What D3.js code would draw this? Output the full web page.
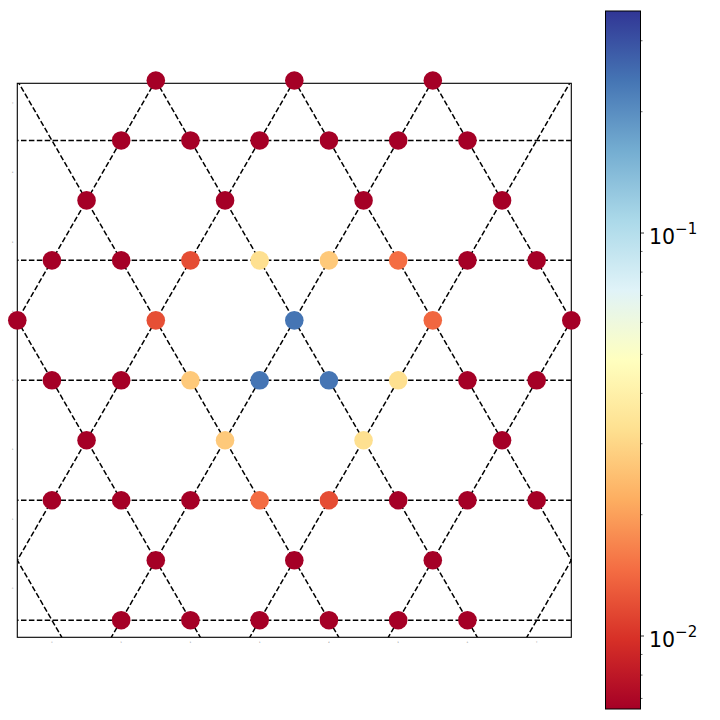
<!DOCTYPE html>
<html>
<head>
<meta charset="utf-8">
<script src="https://cdn.jsdelivr.net/npm/d3@7"></script>
<style>
  html, body { margin: 0; padding: 0; background: #fff; }
  svg { display: block; font-family: "DejaVu Sans", sans-serif; }
</style>
</head>
<body>
<svg id="chart" width="720" height="720"></svg>
<script>
// ---------------- data ----------------
const pointX = [
  1.5, 3.5, 5.5,
  1, 2, 3, 4, 5, 6,
  0.5, 2.5, 4.5, 6.5,
  0, 1, 2, 3, 4, 5, 6, 7,
  -0.5, 1.5, 3.5, 5.5, 7.5,
  0, 1, 2, 3, 4, 5, 6, 7,
  0.5, 2.5, 4.5, 6.5,
  0, 1, 2, 3, 4, 5, 6, 7,
  1.5, 3.5, 5.5,
  1, 2, 3, 4, 5, 6
];
const pointY = [
  7.330, 7.330, 7.330,
  6.464, 6.464, 6.464, 6.464, 6.464, 6.464,
  5.598, 5.598, 5.598, 5.598,
  4.732, 4.732, 4.732, 4.732, 4.732, 4.732, 4.732, 4.732,
  3.866, 3.866, 3.866, 3.866, 3.866,
  3.000, 3.000, 3.000, 3.000, 3.000, 3.000, 3.000, 3.000,
  2.134, 2.134, 2.134, 2.134,
  1.268, 1.268, 1.268, 1.268, 1.268, 1.268, 1.268, 1.268,
  0.402, 0.402, 0.402,
  -0.464, -0.464, -0.464, -0.464, -0.464, -0.464
];
const pointValue = [
  0.0066, 0.0066, 0.0066,
  0.0066, 0.0066, 0.0066, 0.0066, 0.0066, 0.0066,
  0.0066, 0.0066, 0.0066, 0.0066,
  0.0066, 0.0066, 0.0119, 0.0325, 0.027, 0.0146, 0.0066, 0.0066,
  0.0066, 0.0120, 0.239, 0.0141, 0.0066,
  0.0066, 0.0066, 0.027, 0.239, 0.239, 0.0325, 0.0066, 0.0066,
  0.0066, 0.027, 0.0325, 0.0066,
  0.0066, 0.0066, 0.0066, 0.0145, 0.0119, 0.0066, 0.0066, 0.0066,
  0.0066, 0.0066, 0.0066,
  0.0066, 0.0066, 0.0066, 0.0066, 0.0066, 0.0066
];
// lattice guide lines
const horizontalLineY = [6.464, 4.732, 3.000, 1.268, -0.464];
const risingLineX0 = [-1, 1, 3, 5, 7, 9];    // 60° lines, x where they cross y = 3
const fallingLineX0 = [-2, 0, 2, 4, 6, 8];   // 120° lines, x where they cross y = 3
const lineRefY = 3;
// axes
const xDomain = [-0.5, 7.5];
const yDomain = [-0.711, 7.289];
const xTicks = [0, 1, 2, 3, 4, 5, 6, 7];
const yTicks = [0, 1, 2, 3, 4, 5, 6, 7];
// colour bar
const colorMin = 0.00659, colorMax = 0.3556;
const cbMajorTicks = [0.01, 0.1];
const cbMinorTicks = [0.007, 0.008, 0.009, 0.02, 0.03, 0.04, 0.05, 0.06, 0.07, 0.08, 0.09, 0.2, 0.3];
const rdylbu = ["#a50026","#d73027","#f46d43","#fdae61","#fee090","#ffffbf",
                "#e0f3f8","#abd9e9","#74add1","#4575b4","#313695"];

// ---------------- layout ----------------
const svg = d3.select("#chart");
const plot = { left: 17.3, top: 83.3, width: 554, height: 554 };
const cb = { left: 605.5, top: 11, width: 35, height: 698 };

const x = d3.scaleLinear().domain(xDomain).range([plot.left, plot.left + plot.width]);
const y = d3.scaleLinear().domain(yDomain).range([plot.top + plot.height, plot.top]);

const norm = d3.scaleLog().domain([colorMin, colorMax]).range([0, 1]).clamp(true);
const cmap = d3.scaleLinear()
  .domain(d3.range(rdylbu.length).map(i => i / (rdylbu.length - 1)))
  .range(rdylbu).interpolate(d3.interpolateRgb);
const color = v => cmap(norm(v));

const defs = svg.append("defs");
defs.append("clipPath").attr("id", "plotclip")
  .append("rect").attr("x", plot.left).attr("y", plot.top)
  .attr("width", plot.width).attr("height", plot.height);

// ---------------- guide lines ----------------
const lineG = svg.append("g").attr("clip-path", "url(#plotclip)")
  .attr("fill", "none").attr("stroke", "#000")
  .attr("stroke-width", 1.5).attr("stroke-dasharray", "5.5,2.4");

const segs = [];
horizontalLineY.forEach(v => segs.push([[xDomain[0] - 2, v], [xDomain[1] + 2, v]]));
const s3 = Math.sqrt(3);
const yA = yDomain[0] - 2, yB = yDomain[1] + 2;
risingLineX0.forEach(x0 => segs.push([[x0 + (yA - lineRefY) / s3, yA], [x0 + (yB - lineRefY) / s3, yB]]));
fallingLineX0.forEach(x0 => segs.push([[x0 - (yA - lineRefY) / s3, yA], [x0 - (yB - lineRefY) / s3, yB]]));

lineG.selectAll("line").data(segs).join("line")
  .attr("x1", d => x(d[0][0])).attr("y1", d => y(d[0][1]))
  .attr("x2", d => x(d[1][0])).attr("y2", d => y(d[1][1]));

// ---------------- frame ----------------
svg.append("rect")
  .attr("x", plot.left).attr("y", plot.top)
  .attr("width", plot.width).attr("height", plot.height)
  .attr("fill", "none").attr("stroke", "#000").attr("stroke-width", 1.1);

// tiny tick labels
svg.append("g").selectAll("text").data(xTicks).join("text")
  .attr("x", d => x(d)).attr("y", plot.top + plot.height + 6)
  .attr("text-anchor", "middle").attr("font-size", 2).attr("fill", "#666")
  .text(d => d);
svg.append("g").selectAll("text").data(yTicks).join("text")
  .attr("x", plot.left - 4).attr("y", d => y(d) + 0.7)
  .attr("text-anchor", "end").attr("font-size", 2).attr("fill", "#666")
  .text(d => d);

// ---------------- points ----------------
const pts = pointX.map((px, i) => ({ x: px, y: pointY[i], v: pointValue[i] }));
svg.append("g").selectAll("circle").data(pts).join("circle")
  .attr("cx", d => x(d.x)).attr("cy", d => y(d.y))
  .attr("r", 9.3).attr("fill", d => color(d.v));

// ---------------- colour bar ----------------
const cbY = d3.scaleLog().domain([colorMin, colorMax]).range([cb.top + cb.height, cb.top]);
const grad = defs.append("linearGradient").attr("id", "cbgrad")
  .attr("x1", 0).attr("y1", 1).attr("x2", 0).attr("y2", 0);
grad.selectAll("stop").data(rdylbu).join("stop")
  .attr("offset", (d, i) => i / (rdylbu.length - 1))
  .attr("stop-color", d => d);
svg.append("rect")
  .attr("x", cb.left).attr("y", cb.top).attr("width", cb.width).attr("height", cb.height)
  .attr("fill", "url(#cbgrad)").attr("stroke", "#000").attr("stroke-width", 1);

const cbRight = cb.left + cb.width;
svg.append("g").selectAll("line").data(cbMinorTicks).join("line")
  .attr("x1", cbRight).attr("x2", cbRight + 2)
  .attr("y1", d => cbY(d)).attr("y2", d => cbY(d))
  .attr("stroke", "#000").attr("stroke-width", 0.6);
svg.append("g").selectAll("line").data(cbMajorTicks).join("line")
  .attr("x1", cbRight).attr("x2", cbRight + 3.5)
  .attr("y1", d => cbY(d)).attr("y2", d => cbY(d))
  .attr("stroke", "#000").attr("stroke-width", 0.8);

const lbl = svg.append("g").selectAll("text").data(cbMajorTicks).join("text")
  .attr("x", cbRight + 8.5).attr("y", d => cbY(d) + 10.5)
  .attr("font-size", 20.5).attr("fill", "#000");
lbl.append("tspan").text("10");
lbl.append("tspan").attr("dy", -9.5).attr("font-size", 15)
  .text(d => "\u2212" + Math.round(-Math.log10(d)));
</script>
</body>
</html>
